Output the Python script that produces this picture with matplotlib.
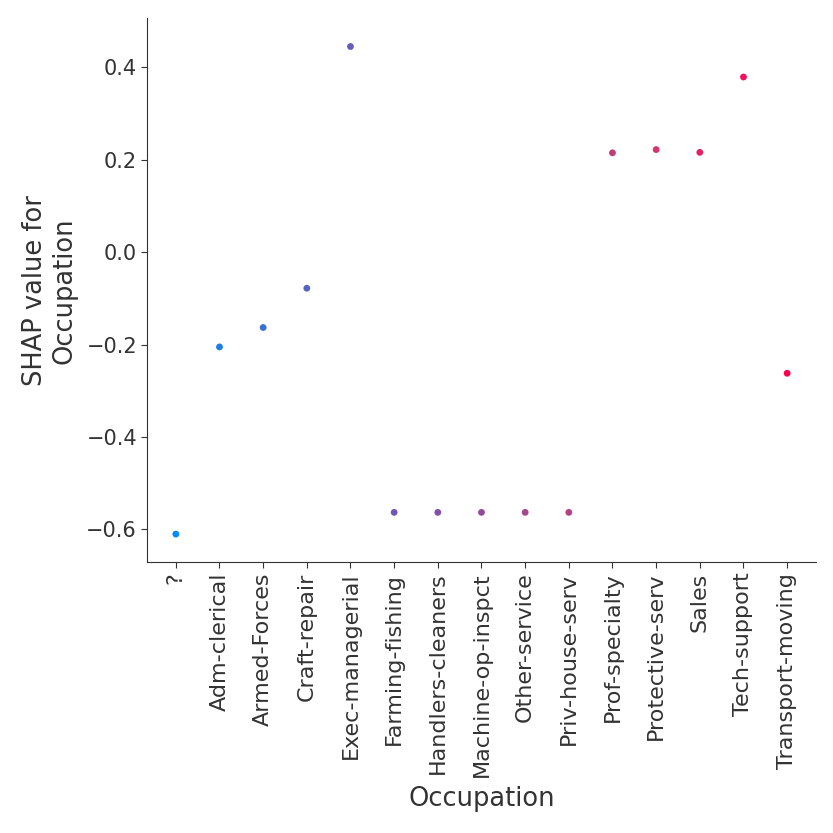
import matplotlib
matplotlib.use("Agg")
import matplotlib.pyplot as plt
from matplotlib.colors import LinearSegmentedColormap
import numpy as np

categories = ["?", "Adm-clerical", "Armed-Forces", "Craft-repair", "Exec-managerial",
              "Farming-fishing", "Handlers-cleaners", "Machine-op-inspct", "Other-service",
              "Priv-house-serv", "Prof-specialty", "Protective-serv", "Sales",
              "Tech-support", "Transport-moving"]
shap_values = [-0.61, -0.205, -0.163, -0.078, 0.445, -0.563, -0.563, -0.563, -0.563,
               -0.563, 0.215, 0.222, 0.216, 0.379, -0.262]

cmap = LinearSegmentedColormap.from_list("rb", ["#008bfb", "#4f66c4", "#7b52ae", "#a9458a", "#d8336c", "#ff0051"])

fig = plt.figure(figsize=(8.33, 8.33), dpi=100)
ax = fig.add_axes([0.177, 0.325, 0.802, 0.653])
x = np.arange(len(categories))
ax.scatter(x, shap_values, c=x, cmap=cmap, s=24, edgecolors="none", zorder=3)
ax.set_xticks(x)
ax.set_xticklabels(categories, rotation=90, fontsize=16, color="#333333")
ax.set_xlim(-0.65, 14.65)
ax.set_ylim(-0.671, 0.506)
ax.set_yticks([-0.6, -0.4, -0.2, 0.0, 0.2, 0.4])
ax.set_yticklabels(["\u22120.6", "\u22120.4", "\u22120.2", "0.0", "0.2", "0.4"])
ax.tick_params(axis="y", labelsize=15, labelcolor="#333333", length=4, color="#333333")
ax.tick_params(axis="x", length=4, color="#333333")
ax.set_xlabel("Occupation", fontsize=18.5, color="#333333", labelpad=6)
ax.set_ylabel("SHAP value for\nOccupation", fontsize=18.5, color="#333333", labelpad=6)
ax.spines["top"].set_visible(False)
ax.spines["right"].set_visible(False)
ax.spines["left"].set_color("#333333")
ax.spines["bottom"].set_color("#333333")
fig.savefig("out.png", dpi=100)
